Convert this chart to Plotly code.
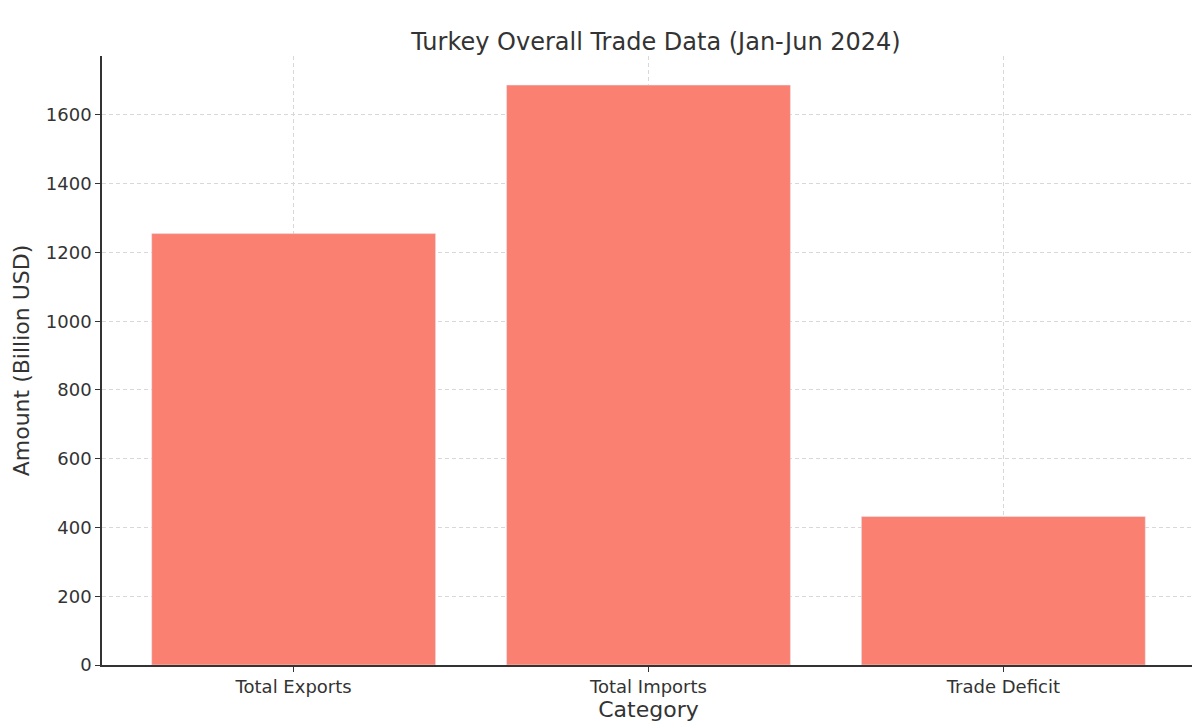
import plotly.graph_objects as go

categories = ["Total Exports", "Total Imports", "Trade Deficit"]
values = [1255, 1687, 432]
y_ticks = [0, 200, 400, 600, 800, 1000, 1200, 1400, 1600]

fig = go.Figure(go.Bar(x=categories, y=values, marker_color="#FA8072", width=0.8))
fig.update_layout(
    width=1200, height=728,
    plot_bgcolor="white", paper_bgcolor="white",
    font=dict(family="DejaVu Sans", size=18, color="#333"),
    title=dict(text="Turkey Overall Trade Data (Jan-Jun 2024)", x=0.54, xanchor="center", y=0.965, font=dict(size=24)),
    margin=dict(l=92, r=13, t=48, b=71),
    showlegend=False,
)
fig.update_xaxes(
    title=dict(text="Category", standoff=4), range=[-0.54, 2.54],
    showline=True, linecolor="#333", linewidth=1.5,
    showgrid=True, gridcolor="#d8d8d8", griddash="4px,3px",
    ticks="outside", ticklen=5, tickcolor="#333",
)
fig.update_yaxes(
    title=dict(text="Amount (Billion USD)", standoff=10), range=[0, 1771.6],
    tickvals=y_ticks, showline=True, linecolor="#333", linewidth=1.5,
    showgrid=True, gridcolor="#d8d8d8", griddash="4px,3px", zeroline=False,
    ticks="outside", ticklen=5, tickcolor="#333",
)
fig.write_html("out.html")
